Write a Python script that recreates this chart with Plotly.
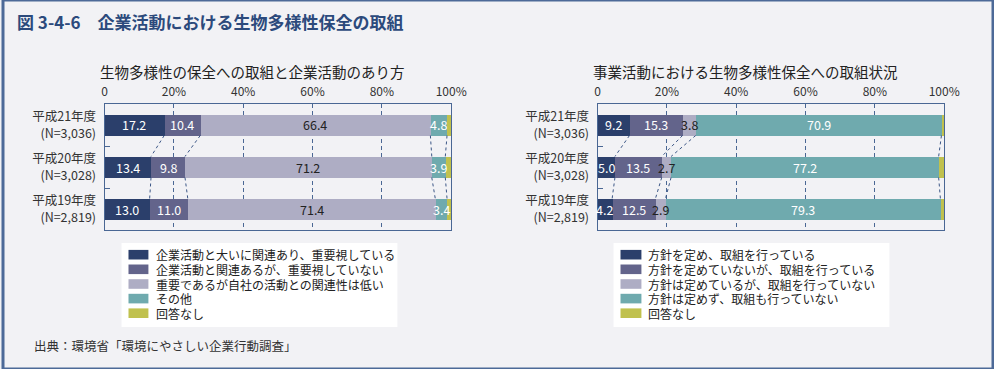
import plotly.graph_objects as go

# ---------------- data ----------------
years = ["平成21年度<br>(N=3,036)", "平成20年度<br>(N=3,028)", "平成19年度<br>(N=2,819)"]

left_title = "生物多様性の保全への取組と企業活動のあり方"
left_names = ["企業活動と大いに関連あり、重要視している",
              "企業活動と関連あるが、重要視していない",
              "重要であるが自社の活動との関連性は低い",
              "その他",
              "回答なし"]
left_vals = [
    [17.2, 13.4, 13.0],
    [10.4, 9.8, 11.0],
    [66.4, 71.2, 71.4],
    [4.8, 3.9, 3.4],
    [1.2, 1.7, 1.2],
]

right_title = "事業活動における生物多様性保全への取組状況"
right_names = ["方針を定め、取組を行っている",
               "方針を定めていないが、取組を行っている",
               "方針は定めているが、取組を行っていない",
               "方針は定めず、取組も行っていない",
               "回答なし"]
right_vals = [
    [9.2, 5.0, 4.2],
    [15.3, 13.5, 12.5],
    [3.8, 2.7, 2.9],
    [70.9, 77.2, 79.3],
    [0.8, 1.6, 1.1],
]

tick_vals = [0, 20, 40, 60, 80, 100]
tick_text = ["0", "20%", "40%", "60%", "80%", "100%"]

colors = ["#2b3f6b", "#63648b", "#aeadc4", "#6faaae", "#c0c14e"]
left_txtcol = ["white", "white", "#222222", "white", None]
right_txtcol = ["white", "white", "#222222", "white", None]

FONT = "Noto Sans CJK JP"
RW, RH = 994, 369          # design size
W, H = 1009, 369           # page size
ypos = [0, 1, 2]
BW = 0.5


def fx(px):
    return px / RW


def fy(py):
    return 1 - py / RH


fig = go.Figure()
annotations = []


def add_panel(vals, names, txtcol, xa, ya):
    n = len(ypos)
    for k, (v, nm) in enumerate(zip(vals, names)):
        fig.add_trace(go.Bar(
            x=v, y=ypos, orientation="h", name=nm, width=BW,
            marker=dict(color=colors[k], line=dict(width=0)),
            xaxis=xa, yaxis=ya, showlegend=False, hoverinfo="skip",
        ))
    # value labels centred in each segment, drawn above all bars
    for k, v in enumerate(vals):
        if not txtcol[k]:
            continue
        for i in range(n):
            start = sum(vals[j][i] for j in range(k))
            annotations.append(dict(
                text=f"{v[i]:.1f}", x=start + v[i] / 2, y=ypos[i],
                xref=xa, yref=ya, showarrow=False, xanchor="center", yanchor="middle",
                font=dict(size=12.5, color=txtcol[k], family=FONT)))
    # dashed connectors between cumulative boundaries of neighbouring bars
    for k in range(len(vals) - 1):
        cum = [sum(vals[j][i] for j in range(k + 1)) for i in range(n)]
        for i in range(n - 1):
            fig.add_trace(go.Scatter(
                x=[cum[i], cum[i + 1]],
                y=[ypos[i] + BW / 2, ypos[i + 1] - BW / 2],
                mode="lines", line=dict(color="#3b5686", width=1, dash="3px,3px"),
                xaxis=xa, yaxis=ya, showlegend=False, hoverinfo="skip",
            ))


add_panel(left_vals, left_names, left_txtcol, "x", "y")
add_panel(right_vals, right_names, right_txtcol, "x2", "y2")

axcol = "#4a6794"
xcommon = dict(range=[0, 100], tickvals=tick_vals, ticktext=tick_text, side="top",
               showgrid=True, gridcolor=axcol, griddash="4px,3px", gridwidth=1,
               showline=True, linecolor=axcol, linewidth=1, mirror=True,
               zeroline=False, ticks="", ticklabelstandoff=2,
               tickfont=dict(size=12, color="#333333", family=FONT), fixedrange=True)
ycommon = dict(range=[2.5, -0.5], tickvals=ypos, ticktext=years,
               showgrid=False, showline=True, linecolor=axcol, linewidth=1, mirror=True,
               zeroline=False, ticks="", ticklabelstandoff=5,
               minor=dict(tickvals=[0.5, 1.5], ticks="inside", ticklen=5,
                          tickcolor=axcol, showgrid=False),
               tickfont=dict(size=12.5, color="#333333", family=FONT), fixedrange=True)

fig.update_layout(
    width=W, height=H, autosize=False,
    margin=dict(l=0, r=0, t=0, b=0),
    paper_bgcolor="#f2f2f5", plot_bgcolor="#f2f2f5",
    barmode="stack", bargap=0,
    font=dict(family=FONT, color="#333333"),
    xaxis=dict(domain=[fx(102), fx(450)], anchor="y", **xcommon),
    yaxis=dict(domain=[fy(230), fy(104)], anchor="x", **ycommon),
    xaxis2=dict(domain=[fx(597), fx(945)], anchor="y2", **xcommon),
    yaxis2=dict(domain=[fy(230), fy(104)], anchor="x2", **ycommon),
)

shapes = []
# outer border
shapes.append(dict(type="rect", xref="paper", yref="paper", x0=0, x1=1, y0=0, y1=1,
                   line=dict(color="#4d6a98", width=3), layer="above"))

# title, subtitles, source
annotations.append(dict(text="図 3-4-6　企業活動における生物多様性保全の取組",
                        xref="paper", yref="paper", x=fx(12), y=fy(22),
                        xanchor="left", yanchor="middle", showarrow=False,
                        font=dict(size=17, color="#2c4a7c", family=FONT, weight="bold")))
annotations.append(dict(text=left_title, xref="paper", yref="paper",
                        x=fx(251), y=fy(72), xanchor="center", yanchor="middle",
                        showarrow=False, font=dict(size=14.5, color="#222222", family=FONT)))
annotations.append(dict(text=right_title, xref="paper", yref="paper",
                        x=fx(745), y=fy(71), xanchor="center", yanchor="middle",
                        showarrow=False, font=dict(size=14.5, color="#222222", family=FONT)))
annotations.append(dict(text="出典：環境省「環境にやさしい企業行動調査」", xref="paper", yref="paper",
                        x=fx(29), y=fy(345), xanchor="left", yanchor="middle",
                        showarrow=False, font=dict(size=12.5, color="#333333", family=FONT)))


def add_legend(names, bx0, bx1, sx0, sx1, tx, rows):
    shapes.append(dict(type="rect", xref="paper", yref="paper",
                       x0=fx(bx0), x1=fx(bx1), y0=fy(327), y1=fy(243),
                       fillcolor="white", line=dict(width=0), layer="below"))
    for k, nm in enumerate(names):
        yc = rows[k]
        shapes.append(dict(type="rect", xref="paper", yref="paper",
                           x0=fx(sx0), x1=fx(sx1), y0=fy(yc + 4.8), y1=fy(yc - 4.8),
                           fillcolor=colors[k], line=dict(width=0)))
        annotations.append(dict(text=nm, xref="paper", yref="paper", x=fx(tx), y=fy(yc),
                                xanchor="left", yanchor="middle", showarrow=False,
                                font=dict(size=12, color="#222222", family=FONT)))


rows = [254.7, 269.3, 284.0, 298.6, 313.2]
add_legend(left_names, 119, 396, 126, 146, 152, rows)
add_legend(right_names, 613, 890, 620, 641, 646, rows)

fig.update_layout(shapes=shapes, annotations=annotations)

post = (
    "document.body.style.margin='0';"
    "document.body.style.overflow='hidden';"
)
fig.write_html("out.html",
               config=dict(displayModeBar=False, responsive=False),
               post_script=post)
